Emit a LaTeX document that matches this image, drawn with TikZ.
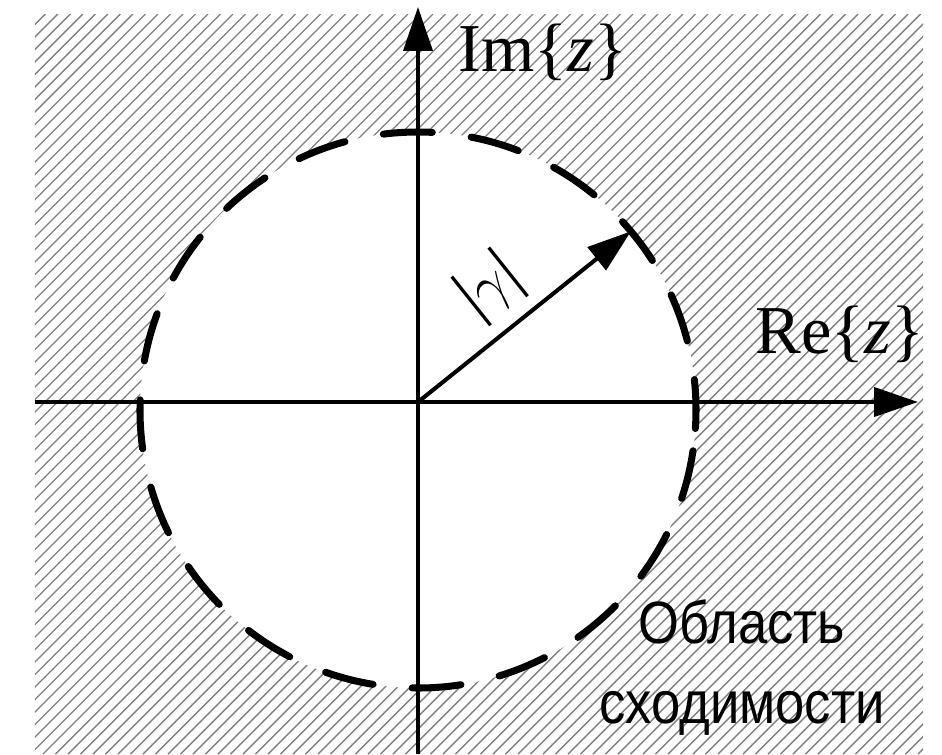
\documentclass[tikz,border=0pt]{standalone}
\usepackage{fontspec}
\setmainfont{Liberation Serif}
\newfontfamily\regionfont[FakeStretch=0.88]{Liberation Sans}
\usetikzlibrary{arrows.meta}

\begin{document}
\begin{tikzpicture}[x=0.02cm, y=0.02cm,
  axis/.style={line width=2.3pt, -{Triangle[length=0.88cm,width=0.58cm]}},
  bound/.style={line width=4pt, line cap=round, dash pattern=on 0.98cm off 0.784cm},
  hatch/.style={black!50, line width=0.8pt},
  lbl/.style={font=\fontsize{39}{40}\selectfont, inner sep=0pt}]
\useasboundingbox (-418,-352) rectangle (524,402);
% hatched plane, the disc is cut out afterwards
\begin{scope}
\clip (-383,-352) rectangle (505,387);
\foreach \h in {-1125,-1112.5,...,510}
  \draw[hatch] (\h,-352) -- ++(740,740);
\end{scope}
\coordinate (c) at (0,-8);
\fill[white] (c) circle[radius=278];
\draw[bound] (c) ++(-3.81:278) arc[start angle=-3.81, end angle=356.19, radius=278];
% axes and radius
\coordinate (o) at (0,0);
\coordinate (xl) at (-383,0);
\coordinate (xr) at (500,0);
\coordinate (yb) at (0,-352);
\coordinate (yt) at (0,395);
\draw[axis] (xl) -- (xr);
\draw[axis] (yb) -- (yt);
\path (c) ++(40:278) coordinate (r);
\draw[axis] (o) -- (r);
% labels
\node[lbl, anchor=base west] (im) at (40,330) {Im\{\textit{z}\}};
\node[lbl, anchor=base west] (re) at (337,49) {Re\{\textit{z}\}};
\node[lbl, rotate=38.6] (rad) at (72,115) {|\scalebox{1.35}{$\gamma$}|};
\node[font=\regionfont\fontsize{34}{45.5}\selectfont, align=center] (region) at (324,-266) {Область\\сходимости};
\end{tikzpicture}
\end{document}
